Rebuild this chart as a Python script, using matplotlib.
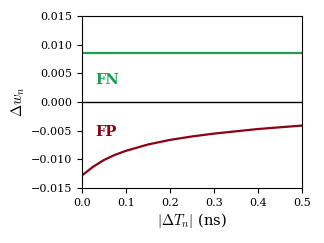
import matplotlib
matplotlib.use('Agg')
import matplotlib.pyplot as plt

# 데이터
dt_ns = [0.0, 0.025, 0.05, 0.075, 0.1, 0.15, 0.2, 0.25, 0.3, 0.35, 0.4, 0.45, 0.5]
fp_dw = [-0.0128, -0.0113, -0.0101, -0.0092, -0.0085, -0.0074, -0.0066,
         -0.0060, -0.0055, -0.0051, -0.0047, -0.0044, -0.0041]
fn_dw = 0.0085

plt.rcParams['font.family'] = 'DejaVu Serif'
plt.rcParams['mathtext.fontset'] = 'cm'
plt.rcParams['font.size'] = 8

fig, ax = plt.subplots(figsize=(3.24, 2.43), dpi=100)
fig.subplots_adjust(left=0.253, right=0.932, top=0.934, bottom=0.226)

green = '#17a04f'
red = '#8b0012'

ax.axhline(fn_dw, color=green, lw=1.6)
ax.axhline(0, color='black', lw=1.0)
ax.plot(dt_ns, fp_dw, color=red, lw=1.6)

ax.text(0.03, 0.0039, 'FN', color=green, fontsize=10.5, fontweight='bold', va='center')
ax.text(0.03, -0.0052, 'FP', color=red, fontsize=10.5, fontweight='bold', va='center')

ax.set_xlim(0, 0.5)
ax.set_ylim(-0.015, 0.015)
ax.set_xticks([0.0, 0.1, 0.2, 0.3, 0.4, 0.5])
ax.set_yticks([-0.015, -0.010, -0.005, 0.0, 0.005, 0.010, 0.015])
ax.set_xlabel(r'$|\Delta T_n|$ (ns)', fontsize=10.5, labelpad=2)
ax.set_ylabel(r'$\Delta w_n$', fontsize=10.5, labelpad=3)

fig.savefig('out.png', dpi=100)
